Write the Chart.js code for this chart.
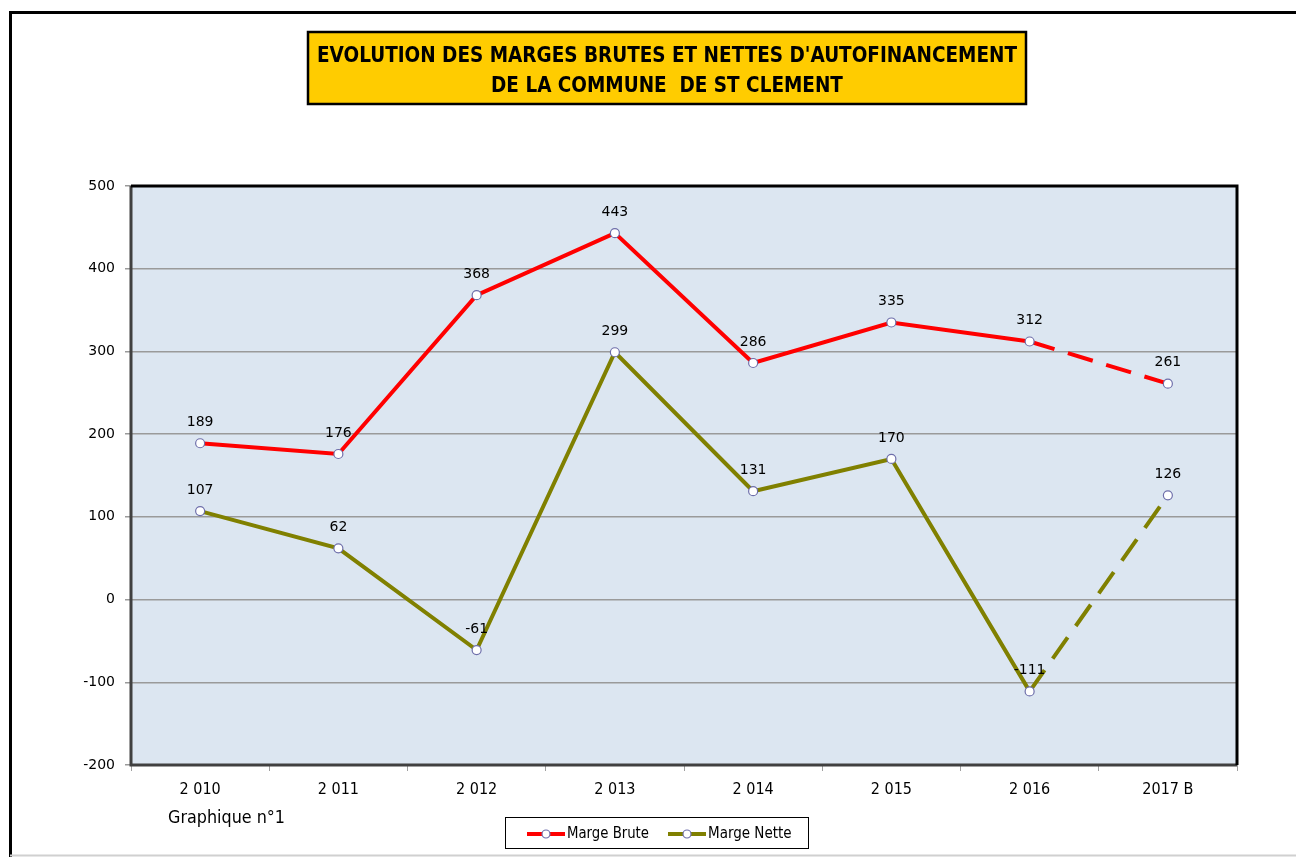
<!DOCTYPE html>
<html>
<head>
<meta charset="utf-8">
<script src="https://cdn.jsdelivr.net/npm/chart.js@4/dist/chart.umd.min.js"></script>
<style>
  html, body { margin: 0; padding: 0; background: #fff; }
  #chart { display: block; }
</style>
</head>
<body>
<canvas id="chart" width="1296" height="857"></canvas>
<script>
/* ── Data ── */
var years       = ['2 010', '2 011', '2 012', '2 013', '2 014', '2 015', '2 016', '2017 B'];
var margeBrute  = [189, 176, 368, 443, 286, 335, 312, 261];
var margeNette  = [107, 62, -61, 299, 131, 170, -111, 126];
var yMin = -200, yMax = 500, yStep = 100;
var titleLines  = ["EVOLUTION DES MARGES BRUTES ET NETTES D'AUTOFINANCEMENT", 'DE LA COMMUNE  DE ST CLEMENT'];
var caption     = 'Graphique n\u00B01';

var cond = "'DejaVu Sans Condensed', 'Liberation Sans Narrow', sans-serif";
var markerBorder = '#6E6EAA';

/* last segment (budget year) is dashed */
function dashLast(ctx) {
    return ctx.p1DataIndex === years.length - 1 ? [26, 14] : undefined;
}

/* draw text squeezed horizontally so it spans a given width */
function squeezeText(c, txt, x, y, width, align) {
    var w = c.measureText(txt).width;
    var k = Math.min(1, width / w);
    c.save();
    c.translate(x, y);
    c.scale(k, 1);
    c.textAlign = align || 'center';
    c.fillText(txt, 0, 0);
    c.restore();
    return k;
}

/* ── Frame, title, plot background and border ── */
var framePlugin = {
    id: 'frame',
    beforeDraw: function(chart) {
        var c = chart.ctx, a = chart.chartArea;
        c.save();
        c.fillStyle = '#DCE6F1';
        c.fillRect(a.left, a.top, a.right - a.left, a.bottom - a.top);
        c.restore();
    },
    afterDraw: function(chart) {
        var c = chart.ctx, a = chart.chartArea;
        c.save();
        // outer sheet frame
        c.strokeStyle = '#000';
        c.lineWidth = 3;
        c.beginPath();
        c.moveTo(10.5, 857); c.lineTo(10.5, 12.5); c.lineTo(1296, 12.5);
        c.stroke();
        c.strokeStyle = '#D0D0D0';
        c.lineWidth = 2;
        c.beginPath();
        c.moveTo(10, 855.5); c.lineTo(1296, 855.5);
        c.stroke();
        // plot border
        c.lineWidth = 3;
        c.strokeStyle = '#404040';
        c.beginPath();
        c.moveTo(a.left, a.top); c.lineTo(a.left, a.bottom); c.lineTo(a.right, a.bottom);
        c.stroke();
        c.strokeStyle = '#000';
        c.beginPath();
        c.moveTo(a.left, a.top); c.lineTo(a.right, a.top); c.lineTo(a.right, a.bottom);
        c.stroke();
        // title box
        c.fillStyle = '#FFCC00';
        c.fillRect(308, 32, 718, 72);
        c.strokeStyle = '#000';
        c.lineWidth = 2.5;
        c.strokeRect(308, 32, 718, 72);
        c.fillStyle = '#000';
        c.font = 'bold 22px ' + cond;
        c.textBaseline = 'middle';
        var k = 700 / c.measureText(titleLines[0]).width;
        [56, 86].forEach(function(y, i) {
            c.save();
            c.translate(667, y);
            c.scale(k, 1);
            c.textAlign = 'center';
            c.fillText(titleLines[i], 0, 0);
            c.restore();
        });
        // caption
        c.font = '18px ' + cond;
        squeezeText(c, caption, 168, 818, 117, 'left');
        c.restore();
    }
};

/* ── Value labels above each point ── */
var labelPlugin = {
    id: 'valueLabels',
    afterDatasetsDraw: function(chart) {
        var c = chart.ctx;
        c.save();
        c.font = '14px "DejaVu Sans", sans-serif';
        c.fillStyle = '#000';
        c.textAlign = 'center';
        c.textBaseline = 'middle';
        chart.data.datasets.forEach(function(ds, i) {
            chart.getDatasetMeta(i).data.forEach(function(pt, j) {
                c.fillText(String(ds.data[j]), pt.x, pt.y - 21);
            });
        });
        c.restore();
    }
};

/* ── Boxed legend ── */
var legendPlugin = {
    id: 'boxLegend',
    afterDraw: function(chart) {
        var c = chart.ctx;
        var x0 = 505, y0 = 817, w = 303, h = 31, cy = 834;
        var lineX = [527, 668], textW = [82, 86];
        c.save();
        c.fillStyle = '#fff';
        c.fillRect(x0, y0, w, h);
        c.strokeStyle = '#000';
        c.lineWidth = 1;
        c.strokeRect(x0 + 0.5, y0 + 0.5, w, h);
        c.font = '15px ' + cond;
        c.textBaseline = 'middle';
        chart.data.datasets.forEach(function(ds, i) {
            var sx = lineX[i];
            c.strokeStyle = ds.borderColor;
            c.lineWidth = 4;
            c.beginPath(); c.moveTo(sx, cy); c.lineTo(sx + 38, cy); c.stroke();
            c.fillStyle = '#fff';
            c.strokeStyle = markerBorder;
            c.lineWidth = 1.2;
            c.beginPath(); c.arc(sx + 19, cy, 4, 0, Math.PI * 2); c.fill(); c.stroke();
            c.fillStyle = '#000';
            squeezeText(c, ds.label, sx + 40, cy, textW[i], 'left');
        });
        c.restore();
    }
};

new Chart(document.getElementById('chart'), {
    type: 'line',
    data: {
        labels: years,
        datasets: [
            { label: 'Marge Brute', data: margeBrute, borderColor: '#FF0000', borderWidth: 4,
              pointRadius: 4.5, pointBackgroundColor: '#fff', pointBorderColor: markerBorder, pointBorderWidth: 1.2,
              tension: 0, segment: { borderDash: dashLast } },
            { label: 'Marge Nette', data: margeNette, borderColor: '#808000', borderWidth: 4,
              pointRadius: 4.5, pointBackgroundColor: '#fff', pointBorderColor: markerBorder, pointBorderWidth: 1.2,
              tension: 0, segment: { borderDash: dashLast } }
        ]
    },
    options: {
        responsive: false,
        animation: false,
        layout: { padding: { left: 71, right: 59, top: 186, bottom: 52 } },
        plugins: { legend: { display: false }, tooltip: { enabled: false } },
        scales: {
            x: {
                offset: true,
                afterFit: function(s) { s.height = 40; },
                grid: { drawOnChartArea: false, drawTicks: true, tickLength: 6, color: '#A0A0A0', offset: true },
                border: { display: false },
                ticks: { color: '#000', padding: 9, maxRotation: 0, font: { size: 16, family: cond } }
            },
            y: {
                min: yMin, max: yMax,
                afterFit: function(s) { s.width = 60; },
                grid: { color: '#9A9A9A', lineWidth: 1.5, tickLength: 6 },
                border: { display: false },
                ticks: { stepSize: yStep, color: '#000', padding: 10, font: { size: 14, family: '"DejaVu Sans", sans-serif' } }
            }
        }
    },
    plugins: [framePlugin, labelPlugin, legendPlugin]
});
</script>
</body>
</html>
